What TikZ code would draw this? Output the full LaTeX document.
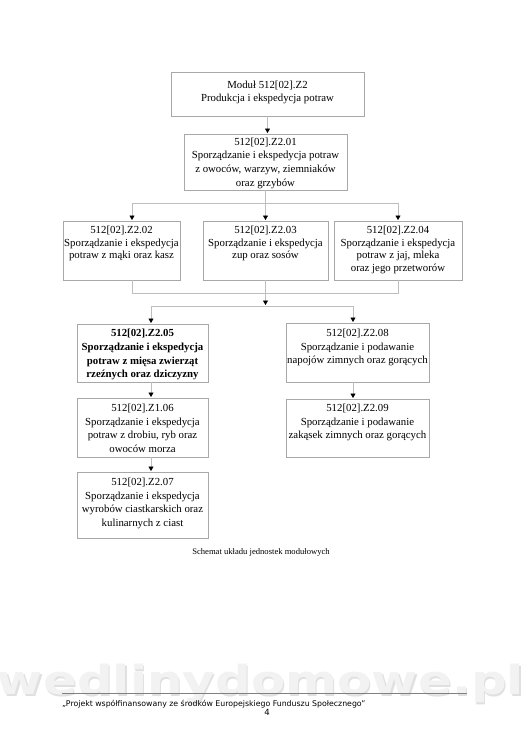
\documentclass[tikz,border=0pt]{standalone}
\usepackage{fontspec}
\setmainfont{Liberation Serif}
\newfontfamily\footfont{DejaVu Sans}
\usetikzlibrary{arrows.meta}
\definecolor{boxgray}{HTML}{A8A8A8}
\definecolor{linegray}{HTML}{BEBEBE}
\definecolor{wmfill}{HTML}{F2F2F2}
\definecolor{wmshadow}{HTML}{E0E0E0}
% width, height, first-line strut, baselineskip, text
\newcommand\bxt[5]{\parbox[c][#2][t]{#1}{\centering\fontsize{10.8}{#4}\selectfont\rule{0pt}{#3}#5\par}}
\tikzset{
  bx/.style={draw=boxgray, line width=0.7pt, inner sep=0pt, outer sep=0pt, anchor=north west},
  ln/.style={draw=linegray, line width=0.7pt},
  arr/.style={ln, -{Triangle[length=4.5pt,width=5pt,color=black]}, shorten >=1pt},
}
\begin{document}
\begin{tikzpicture}[x=1pt,y=-1pt]
\fill[white] (0,0) rectangle (530,750);
\useasboundingbox (0,0) rectangle (530,750);

% watermark
\node[anchor=base west, inner sep=0pt, text=wmshadow] (wms) at (-2,696) {\scalebox{1.25}[1]{\fontsize{40}{40}\footfont\bfseries wedlinydomowe.pl}};
\node[anchor=base west, inner sep=0pt, text=wmfill] (wm) at (-3.2,694.8) {\scalebox{1.25}[1]{\fontsize{40}{40}\footfont\bfseries wedlinydomowe.pl}};

% boxes
\node[bx] (m) at (171,72) {\bxt{193pt}{44pt}{16.5pt}{13pt}{Moduł 512[02].Z2\\Produkcja i ekspedycja potraw}};
\node[bx] (a01) at (184,134) {\bxt{163pt}{56pt}{11pt}{13.8pt}{512[02].Z2.01\\Sporządzanie i ekspedycja potraw\\z owoców, warzyw, ziemniaków\\oraz grzybów}};

\node[bx] (b02) at (63,221) {\bxt{117pt}{59pt}{12.5pt}{12.5pt}{512[02].Z2.02\\Sporządzanie i ekspedycja\\potraw z mąki oraz kasz}};
\node[bx] (b03) at (203,221) {\bxt{125pt}{59pt}{12.5pt}{12.5pt}{512[02].Z2.03\\Sporządzanie i ekspedycja\\zup oraz sosów}};
\node[bx] (b04) at (334,221) {\bxt{128pt}{59pt}{12.5pt}{12.5pt}{512[02].Z2.04\\Sporządzanie i ekspedycja\\potraw z jaj, mleka\\oraz jego przetworów}};

\node[bx] (c05) at (77,324) {\bxt{131pt}{58pt}{12.5pt}{13.8pt}{\bfseries 512[02].Z2.05\\Sporządzanie i ekspedycja\\potraw z mięsa zwierząt\\rzeźnych oraz dziczyzny}};
\node[bx] (c06) at (77,398) {\bxt{131pt}{59pt}{13.5pt}{13.6pt}{512[02].Z1.06\\Sporządzanie i ekspedycja\\potraw z drobiu, ryb oraz\\owoców morza}};
\node[bx] (c07) at (77,472) {\bxt{131pt}{66pt}{13.5pt}{13.6pt}{512[02].Z2.07\\Sporządzanie i ekspedycja\\wyrobów ciastkarskich oraz\\kulinarnych z ciast}};

\node[bx] (d08) at (286,323) {\bxt{143pt}{59pt}{13.5pt}{13.6pt}{512[02].Z2.08\\Sporządzanie i podawanie\\napojów zimnych oraz gorących}};
\node[bx] (d09) at (286,399) {\bxt{143pt}{58pt}{12.5pt}{13.6pt}{512[02].Z2.09\\Sporządzanie i podawanie\\zakąsek zimnych oraz gorących}};

% junction points
\coordinate (j1) at (265.5,203);
\coordinate (jl) at (132,203);
\coordinate (jr) at (398,203);
\coordinate (kl) at (132,293);
\coordinate (kc) at (265.5,293);
\coordinate (kr) at (398,293);
\coordinate (ll) at (151,306);
\coordinate (lr) at (353,306);

% connectors
\draw[arr] (m.south) -- (m.south |- a01.north);
\draw[ln] (a01.south) -- (j1);
\draw[ln] (jl) -- (jr);
\draw[arr] (jl) -- (jl |- b02.north);
\draw[arr] (j1) -- (j1 |- b03.north);
\draw[arr] (jr) -- (jr |- b04.north);

\draw[ln] (kl |- b02.south) -- (kl) -- (kr) -- (kr |- b04.south);
\draw[ln] (b03.south) -- (kc);
\draw[arr] (kc) -- (kc |- ll);
\draw[ln] (ll) -- (lr);
\draw[arr] (ll) -- (ll |- c05.north);
\draw[arr] (lr) -- (lr |- d08.north);
\draw[arr] (ll |- c05.south) -- (ll |- c06.north);
\draw[arr] (ll |- c06.south) -- (ll |- c07.north);
\draw[arr] (lr |- d08.south) -- (lr |- d09.north);

% caption
\node[inner sep=0pt, font=\fontsize{8.6}{10}\selectfont] (cap) at (261,552) {Schemat układu jednostek modułowych};

% footer
\coordinate (fl) at (62,693);
\coordinate (fr) at (467,693);
\draw[draw=gray, line width=0.6pt] (fl) -- (fr);
\node[anchor=base west, inner sep=0pt, font=\footfont\fontsize{7.8}{9}\selectfont] (foot) at (62,706) {„Projekt współfinansowany ze środków Europejskiego Funduszu Społecznego”};
\node[anchor=base, inner sep=0pt, font=\footfont\fontsize{8.5}{10}\selectfont] (pg) at (267,715) {4};
\end{tikzpicture}
\end{document}
